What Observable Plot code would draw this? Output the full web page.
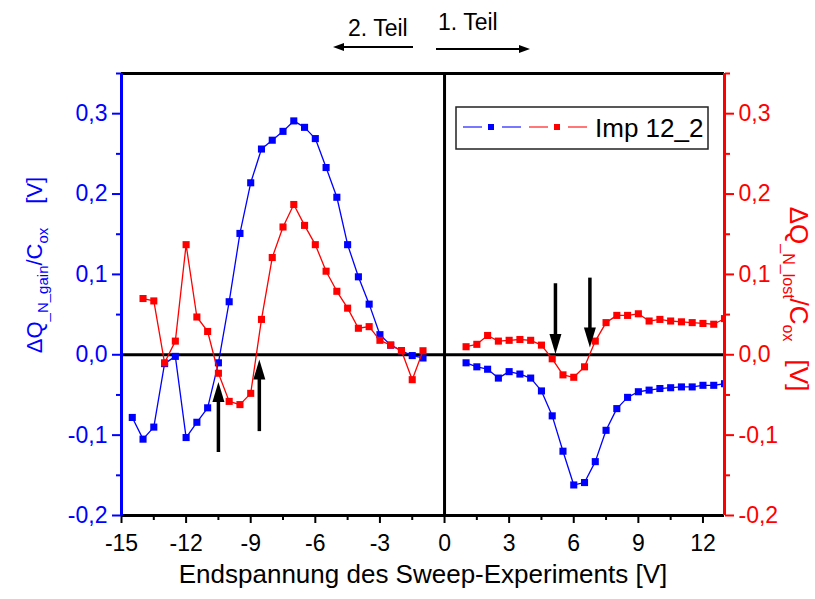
<!DOCTYPE html>
<html><head><meta charset="utf-8">
<script src="https://cdn.jsdelivr.net/npm/d3@7"></script>
<script src="https://cdn.jsdelivr.net/npm/@observablehq/plot@0.6"></script>
<style>body{margin:0;background:#fff;} svg{display:block}</style>
</head><body><div id="chart"></div>
<script>
// ---- data ----
const xNeg = [-14.5,-14,-13.5,-13,-12.5,-12,-11.5,-11,-10.5,-10,-9.5,-9,-8.5,-8,-7.5,-7,-6.5,-6,-5.5,-5,-4.5,-4,-3.5,-3,-2.5,-2,-1.5,-1];
const gainNeg = [-0.078,-0.105,-0.090,-0.011,-0.002,-0.103,-0.084,-0.066,-0.010,0.066,0.151,0.214,0.256,0.267,0.278,0.291,0.283,0.269,0.233,0.196,0.137,0.097,0.063,0.025,0.012,0.005,-0.001,-0.004];
const lostNeg = [null,0.070,0.067,-0.010,0.017,0.137,0.047,0.029,-0.023,-0.058,-0.062,-0.048,0.044,0.121,0.159,0.187,0.161,0.137,0.104,0.079,0.058,0.033,0.035,0.018,0.012,0.005,-0.031,0.005];
const xPos = [1,1.5,2,2.5,3,3.5,4,4.5,5,5.5,6,6.5,7,7.5,8,8.5,9,9.5,10,10.5,11,11.5,12,12.5,13];
const gainPos = [-0.010,-0.015,-0.018,-0.029,-0.021,-0.024,-0.029,-0.045,-0.076,-0.120,-0.162,-0.159,-0.133,-0.094,-0.067,-0.053,-0.046,-0.044,-0.042,-0.041,-0.040,-0.040,-0.038,-0.038,-0.036];
const lostPos = [0.010,0.013,0.024,0.017,0.018,0.019,0.018,0.012,-0.005,-0.025,-0.028,-0.015,0.017,0.040,0.049,0.049,0.051,0.042,0.044,0.042,0.041,0.040,0.039,0.038,0.045];

const xTicks = [-15,-12,-9,-6,-3,0,3,6,9,12];
const xMinorTicks = [-13.5,-10.5,-7.5,-4.5,-1.5,1.5,4.5,7.5,10.5];
const yTicks = [-0.2,-0.1,0,0.1,0.2,0.3];
const yMinorTicks = [-0.15,-0.05,0.05,0.15,0.25,0.35];

const arrowX = [-10.5,-8.6,5.15,6.75];
const arrowTail = [-0.121,-0.095,0.089,0.096];
const arrowTip = [-0.034,-0.006,0.001,0.009];

const xLabel = "Endspannung des Sweep-Experiments [V]";
const legendLabel = "Imp 12_2";
const partLabels = ["2. Teil", "1. Teil"];

// ---- tables ----
const rows = (xs, ys) => xs.map((x, i) => ({x, y: ys[i]})).filter(d => d.y != null);
const gainN = rows(xNeg, gainNeg), gainP = rows(xPos, gainPos);
const lostN = rows(xNeg, lostNeg), lostP = rows(xPos, lostPos);
const arrows = arrowX.map((x, i) => ({x, y1: arrowTail[i], y2: arrowTip[i]}));

const fmt = d => d.toFixed(1).replace(".", ",");
const BLUE = "#0000ff", RED = "#ff0000";
const head = {draw(ctx) { ctx.moveTo(0, 0); ctx.lineTo(6, 20); ctx.lineTo(-6, 20); ctx.closePath(); }};

const series = (data, color) => [
  Plot.line(data, {x: "x", y: "y", stroke: color, strokeWidth: 1.3, clip: true}),
  Plot.dot(data, {x: "x", y: "y", symbol: "square", r: 4, fill: color, stroke: "none", clip: true})
];

const svg = Plot.plot({
  width: 815, height: 599,
  marginLeft: 121, marginRight: 91, marginTop: 73, marginBottom: 84,
  style: {fontFamily: "'Liberation Sans', Arial, sans-serif", background: "white", color: "black"},
  x: {domain: [-15, 13]},
  y: {domain: [-0.2, 0.35]},
  marks: [
    Plot.ruleY([0], {stroke: "black", strokeWidth: 3}),
    Plot.ruleX([0], {stroke: "black", strokeWidth: 3}),
    Plot.ruleY([0.35], {stroke: "black", strokeWidth: 3}),
    Plot.ruleY([-0.2], {stroke: "black", strokeWidth: 3}),
    Plot.axisX({ticks: xTicks, tickFormat: d => String(d), tickSize: 8, tickPadding: 11, fontSize: 23, strokeWidth: 2, label: null}),
    Plot.axisX({ticks: xMinorTicks, tickSize: 5, strokeWidth: 2, text: null, label: null}),
    Plot.axisY({anchor: "left", ticks: yTicks, tickFormat: fmt, tickSize: 9, tickPadding: 5, fontSize: 23, strokeWidth: 2, color: BLUE, label: null}),
    Plot.axisY({anchor: "left", ticks: yMinorTicks, tickSize: 5, strokeWidth: 2, color: BLUE, text: null, label: null}),
    Plot.axisY({anchor: "right", ticks: yTicks, tickFormat: fmt, tickSize: 9, tickPadding: 5, fontSize: 23, strokeWidth: 2, color: RED, label: null}),
    Plot.axisY({anchor: "right", ticks: yMinorTicks, tickSize: 5, strokeWidth: 2, color: RED, text: null, label: null}),
    ...series(gainN, BLUE), ...series(gainP, BLUE),
    ...series(lostN, RED), ...series(lostP, RED),
    Plot.ruleX([-15], {stroke: BLUE, strokeWidth: 3}),
    Plot.ruleX([13], {stroke: RED, strokeWidth: 3}),
    Plot.arrow(arrows, {x: "x", y1: "y1", y2: "y2", stroke: "black", strokeWidth: 3.5, headLength: 0, insetEnd: 14, strokeLinecap: "butt"}),
    Plot.dot(arrows, {x: "x", y: "y2", symbol: head, r: 5, fill: "black", stroke: "none", rotate: d => d.y2 > d.y1 ? 0 : 180}),
    Plot.text([xLabel], {frameAnchor: "bottom", dy: 67, fontSize: 26, fill: "black"})
  ]
});
document.getElementById("chart").append(svg);

// ---- annotations outside the frame ----
const s = d3.select(svg);
const F = "'Liberation Sans', Arial, sans-serif";
// left y title
const lt = s.append("text").attr("transform", "translate(42,265) rotate(-90)").attr("text-anchor", "middle")
  .attr("fill", BLUE).attr("font-family", F).attr("font-size", 22);
lt.append("tspan").text("ΔQ");
lt.append("tspan").attr("font-size", 15).attr("dy", 6).text("_N_gain");
lt.append("tspan").attr("dy", -6).text("/C");
lt.append("tspan").attr("font-size", 15).attr("dy", 6).text("ox");
lt.append("tspan").attr("dy", -6).attr("dx", 24).text("[V]");
// right y title
const rt = s.append("text").attr("transform", "translate(790,299) rotate(90)").attr("text-anchor", "middle")
  .attr("fill", RED).attr("font-family", F).attr("font-size", 26);
rt.append("tspan").text("ΔQ");
rt.append("tspan").attr("font-size", 16).attr("dy", 7).text("_N_lost");
rt.append("tspan").attr("dy", -7).text("/C");
rt.append("tspan").attr("font-size", 16).attr("dy", 7).text("ox");
rt.append("tspan").attr("dy", -7).attr("dx", 18).text("[V]");
// top part labels and arrows
s.append("text").attr("x", 348).attr("y", 36).attr("text-anchor", "start").attr("font-family", F).attr("font-size", 23).attr("fill", "black").text(partLabels[0]);
s.append("text").attr("x", 438).attr("y", 30).attr("text-anchor", "start").attr("font-family", F).attr("font-size", 23).attr("fill", "black").text(partLabels[1]);
s.append("line").attr("x1", 413).attr("x2", 340).attr("y1", 47).attr("y2", 47).attr("stroke", "black").attr("stroke-width", 2);
s.append("path").attr("d", "M333,47L344,43L344,51Z").attr("fill", "black");
s.append("line").attr("x1", 436).attr("x2", 522).attr("y1", 49).attr("y2", 49).attr("stroke", "black").attr("stroke-width", 2);
s.append("path").attr("d", "M530,49L519,45L519,53Z").attr("fill", "black");
// legend
const lg = s.append("g");
lg.append("rect").attr("x", 456).attr("y", 107).attr("width", 252).attr("height", 42).attr("fill", "white").attr("stroke", "#222").attr("stroke-width", 1.5);
[[463, BLUE, "#4a4aff"], [529, RED, "#ff4a4a"]].forEach(([x0, c, lc]) => {
  lg.append("line").attr("x1", x0).attr("x2", x0 + 19).attr("y1", 127).attr("y2", 127).attr("stroke", lc).attr("stroke-width", 1.5);
  lg.append("rect").attr("x", x0 + 25).attr("y", 124).attr("width", 6).attr("height", 6).attr("fill", c);
  lg.append("line").attr("x1", x0 + 39).attr("x2", x0 + 58).attr("y1", 127).attr("y2", 127).attr("stroke", lc).attr("stroke-width", 1.5);
});
lg.append("text").attr("x", 595).attr("y", 136.5).attr("text-anchor", "start").attr("font-family", F).attr("font-size", 26).attr("fill", "black").text(legendLabel);
</script></body></html>
